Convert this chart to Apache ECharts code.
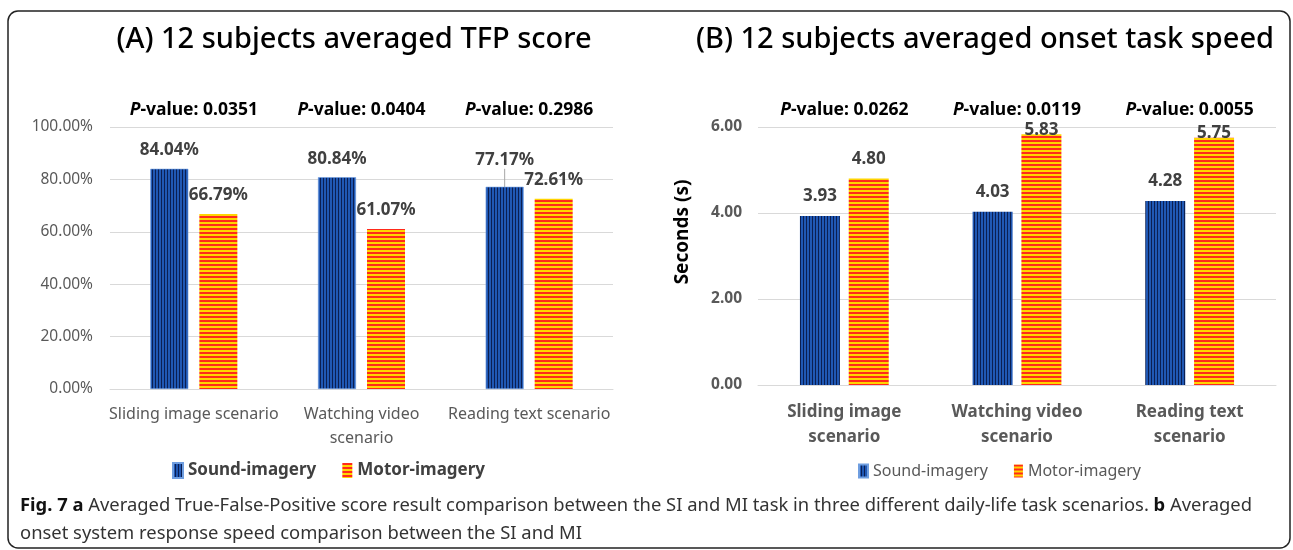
<!DOCTYPE html>
<html>
<head>
<meta charset="utf-8">
<script src="https://cdn.jsdelivr.net/npm/echarts@6/dist/echarts.min.js"></script>
<style>
  html, body { margin: 0; padding: 0; background: #fff; }
  #chart { width: 1293px; height: 550px; }
</style>
</head>
<body>
<div id="chart"></div>
<script>
// --- data ---
const seriesNames = ['Sound-imagery', 'Motor-imagery']
const labelsA = ['Sliding image scenario', 'Watching video\nscenario', 'Reading text scenario']
const labelsB = ['Sliding image\nscenario', 'Watching video\nscenario', 'Reading text\nscenario']
const soundTFP = [84.04, 80.84, 77.17]
const motorTFP = [66.79, 61.07, 72.61]
const pValuesA = ['0.0351', '0.0404', '0.2986']
const soundSpeed = [3.93, 4.03, 4.28]
const motorSpeed = [4.80, 5.83, 5.75]
const pValuesB = ['0.0262', '0.0119', '0.0055']

const FONT = '"Noto Sans", "Open Sans", sans-serif'

// striped fills like the original Excel patterns
function pattern(w, h, draw) {
  const c = document.createElement('canvas')
  c.width = w
  c.height = h
  draw(c.getContext('2d'))
  return { image: c, repeat: 'repeat' }
}
const soundFill = pattern(3, 1, ctx => {
  ctx.fillStyle = '#2058b4'
  ctx.fillRect(0, 0, 2, 1)
  ctx.fillStyle = '#0b1f52'
  ctx.fillRect(2, 0, 1, 1)
})
const motorFill = pattern(1, 4, ctx => {
  ctx.fillStyle = '#ff2a1a'
  ctx.fillRect(0, 0, 1, 2)
  ctx.fillStyle = '#ffd400'
  ctx.fillRect(0, 2, 1, 2)
})

const chart = echarts.init(document.getElementById('chart'))

function pAxis(gridIndex, vals) {
  return {
    type: 'category',
    gridIndex: gridIndex,
    position: 'top',
    data: vals,
    axisLine: { show: false },
    axisTick: { show: false },
    axisLabel: {
      margin: 8,
      formatter: v => '{p|P}{t|-value: ' + v + '}',
      rich: {
        p: { fontFamily: FONT, fontSize: 17.5, fontWeight: 'bold', fontStyle: 'italic', color: '#000' },
        t: { fontFamily: FONT, fontSize: 17.5, fontWeight: 'bold', color: '#000' }
      }
    }
  }
}

const titleStyle = { fontFamily: FONT, fontSize: 29, fontWeight: 500, color: '#000' }

chart.setOption({
  animation: false,
  textStyle: { fontFamily: FONT },
  title: [
    { text: '(A) 12 subjects averaged TFP score', left: 354, top: 25, textAlign: 'center', padding: 0, textStyle: titleStyle },
    { text: '(B) 12 subjects averaged onset task speed', left: 985, top: 25, textAlign: 'center', padding: 0, textStyle: titleStyle }
  ],
  legend: [
    {
      data: seriesNames,
      left: 167, top: 457,
      itemWidth: 10, itemHeight: 15, itemGap: 26,
      icon: 'rect',
      textStyle: { fontFamily: FONT, fontSize: 17, fontWeight: 'bold', color: '#404040' }
    },
    {
      data: seriesNames,
      left: 853, top: 458,
      itemWidth: 9, itemHeight: 13, itemGap: 26,
      icon: 'rect',
      textStyle: { fontFamily: FONT, fontSize: 16, color: '#595959' }
    }
  ],
  grid: [
    { left: 110, top: 127, width: 503, height: 262 },
    { left: 758, top: 127, width: 518, height: 258 }
  ],
  xAxis: [
    {
      type: 'category', gridIndex: 0, data: labelsA,
      axisLine: { lineStyle: { color: '#d9d9d9' } },
      axisTick: { show: false },
      axisLabel: { margin: 13, fontSize: 16, color: '#595959', lineHeight: 24, interval: 0 }
    },
    {
      type: 'category', gridIndex: 1, data: labelsB,
      axisLine: { lineStyle: { color: '#d9d9d9' } },
      axisTick: { show: false },
      axisLabel: { margin: 15, fontSize: 17, fontWeight: 'bold', color: '#595959', lineHeight: 25, interval: 0 }
    },
    pAxis(0, pValuesA),
    pAxis(1, pValuesB)
  ],
  yAxis: [
    {
      type: 'value', gridIndex: 0, min: 0, max: 100, interval: 20,
      axisLabel: { margin: 17, fontSize: 15.5, color: '#595959', formatter: v => v.toFixed(2) + '%' },
      splitLine: { lineStyle: { color: '#d9d9d9' } }
    },
    {
      type: 'value', gridIndex: 1, min: 0, max: 6, interval: 2,
      axisLabel: { margin: 16, fontSize: 15.5, fontWeight: 'bold', color: '#595959', formatter: v => v.toFixed(2) },
      splitLine: { lineStyle: { color: '#d9d9d9' } }
    }
  ],
  series: [
    {
      name: seriesNames[0], type: 'bar', xAxisIndex: 0, yAxisIndex: 0,
      // the last label was lifted in the figure, with a leader line
      data: soundTFP.map((v, i) => i === 2 ? { value: v, labelLine: { show: true } } : v),
      barWidth: 38, barGap: '29%',
      itemStyle: { color: soundFill, borderColor: '#6f9ee0', borderWidth: 0.6 },
      label: { show: true, position: 'top', distance: 10, fontSize: 17, fontWeight: 'bold', color: '#404040',
        formatter: p => p.value.toFixed(2) + '%' },
      labelLayout: p => p.dataIndex === 2 ? { dy: -8 } : {},
      labelLine: { show: false, lineStyle: { color: '#a6a6a6', width: 1 } }
    },
    {
      name: seriesNames[1], type: 'bar', xAxisIndex: 0, yAxisIndex: 0,
      data: motorTFP, barWidth: 38, barGap: '29%',
      itemStyle: { color: motorFill },
      label: { show: true, position: 'top', distance: 10, fontSize: 17, fontWeight: 'bold', color: '#404040',
        formatter: p => p.value.toFixed(2) + '%' }
    },
    {
      name: seriesNames[0], type: 'bar', xAxisIndex: 1, yAxisIndex: 1,
      data: soundSpeed, barWidth: 40, barGap: '22%',
      itemStyle: { color: soundFill },
      label: { show: true, position: 'top', distance: 11, fontSize: 17, fontWeight: 'bold', color: '#404040',
        formatter: p => p.value.toFixed(2) }
    },
    {
      name: seriesNames[1], type: 'bar', xAxisIndex: 1, yAxisIndex: 1,
      // labels of the tallest bars sit on the bar top, as in the figure
      data: motorSpeed.map(v => v > 5.5 ? { value: v, label: { distance: -4 } } : v),
      barWidth: 40, barGap: '22%',
      itemStyle: { color: motorFill },
      label: { show: true, position: 'top', distance: 11, fontSize: 17, fontWeight: 'bold', color: '#404040',
        formatter: p => p.value.toFixed(2) }
    }
  ],
  graphic: [
    {
      type: 'rect', silent: true,
      shape: { x: 8, y: 11, width: 1282, height: 537, r: 10 },
      style: { fill: null, stroke: '#222', lineWidth: 1.5 }
    },
    {
      type: 'text', x: 683, y: 232, rotation: Math.PI / 2,
      style: { text: 'Seconds (s)', fontFamily: FONT, fontSize: 19, fontWeight: 'bold', fill: '#000',
        align: 'center', verticalAlign: 'middle' }
    },
    {
      type: 'text', left: 20, top: 492,
      style: {
        text: '{b|Fig. 7 a} Averaged True-False-Positive score result comparison between the SI and MI task in three different daily-life task scenarios. {b|b} Averaged\nonset system response speed comparison between the SI and MI',
        fontFamily: FONT, fontSize: 18.4, lineHeight: 28, fill: '#333',
        rich: { b: { fontWeight: 'bold', fontFamily: FONT, fontSize: 18.4, fill: '#111' } }
      }
    }
  ]
})
</script>
</body>
</html>
